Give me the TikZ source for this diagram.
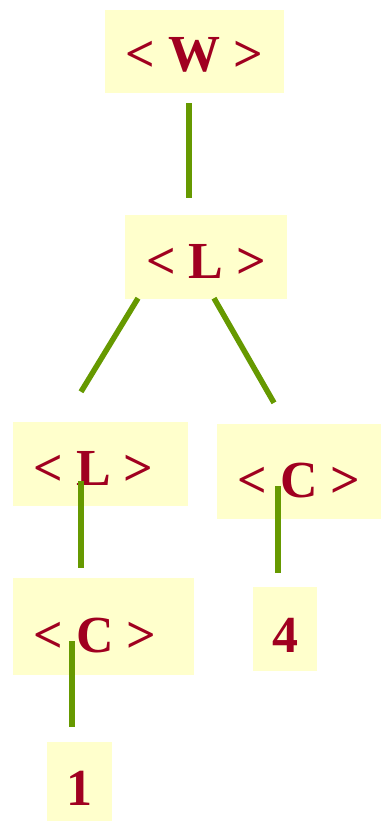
\documentclass[tikz,border=0pt]{standalone}
\usepackage{fontspec}
\setmainfont{Liberation Serif}
\definecolor{boxfill}{RGB}{255,255,204}
\definecolor{textred}{RGB}{160,0,32}
\definecolor{linegreen}{RGB}{102,153,0}
\tikzset{
  treebox/.style={fill=boxfill, inner sep=0pt, text=textred,
    font=\fontsize{52}{60}\selectfont\bfseries, text depth=0pt},
  edge/.style={draw=linegreen, line width=5.5pt}
}
\begin{document}
\begin{tikzpicture}[x=1pt,y=-1pt]
\useasboundingbox (0,0) rectangle (381,821);
\node[treebox, minimum width=179pt, minimum height=83pt, text height=41pt] (w) at (194.5,51.5) {< W >};
\node[treebox, minimum width=162pt, minimum height=84pt, text height=42pt] (l) at (206,257) {< L >};
\node[treebox, minimum width=175pt, minimum height=84pt, text height=42pt] (ll) at (100.5,464) {< L >\hspace*{14pt}};
\node[treebox, minimum width=164pt, minimum height=95pt, text height=51pt] (cr) at (299,471.5) {< C >};
\node[treebox, minimum width=181pt, minimum height=97pt, text height=51pt] (cl) at (103.5,626.5) {< C >\hspace*{17pt}};
\node[treebox, minimum width=64pt, minimum height=84pt, text height=46pt] (n4) at (285,629) {4};
\node[treebox, minimum width=65pt, minimum height=84pt, text height=42pt] (n1) at (79.5,784) {1};
\draw[edge] ([xshift=-5.5pt,yshift=-10pt]w.south) -- ([xshift=-17pt,yshift=17pt]l.north);
\draw[edge] ([xshift=-68pt,yshift=1pt]l.south) -- ([xshift=-19.5pt,yshift=30pt]ll.north);
\draw[edge] ([xshift=8pt,yshift=1pt]l.south) -- ([xshift=-25pt,yshift=21pt]cr.north);
\draw[edge] ([xshift=-19.5pt,yshift=25pt]ll.south) -- ([xshift=-22.5pt,yshift=10pt]cl.north);
\draw[edge] ([xshift=-21pt,yshift=33pt]cr.south) -- ([xshift=-7pt,yshift=14pt]n4.north);
\draw[edge] ([xshift=-31.5pt,yshift=34pt]cl.south) -- ([xshift=-7.5pt,yshift=15pt]n1.north);
\end{tikzpicture}
\end{document}
